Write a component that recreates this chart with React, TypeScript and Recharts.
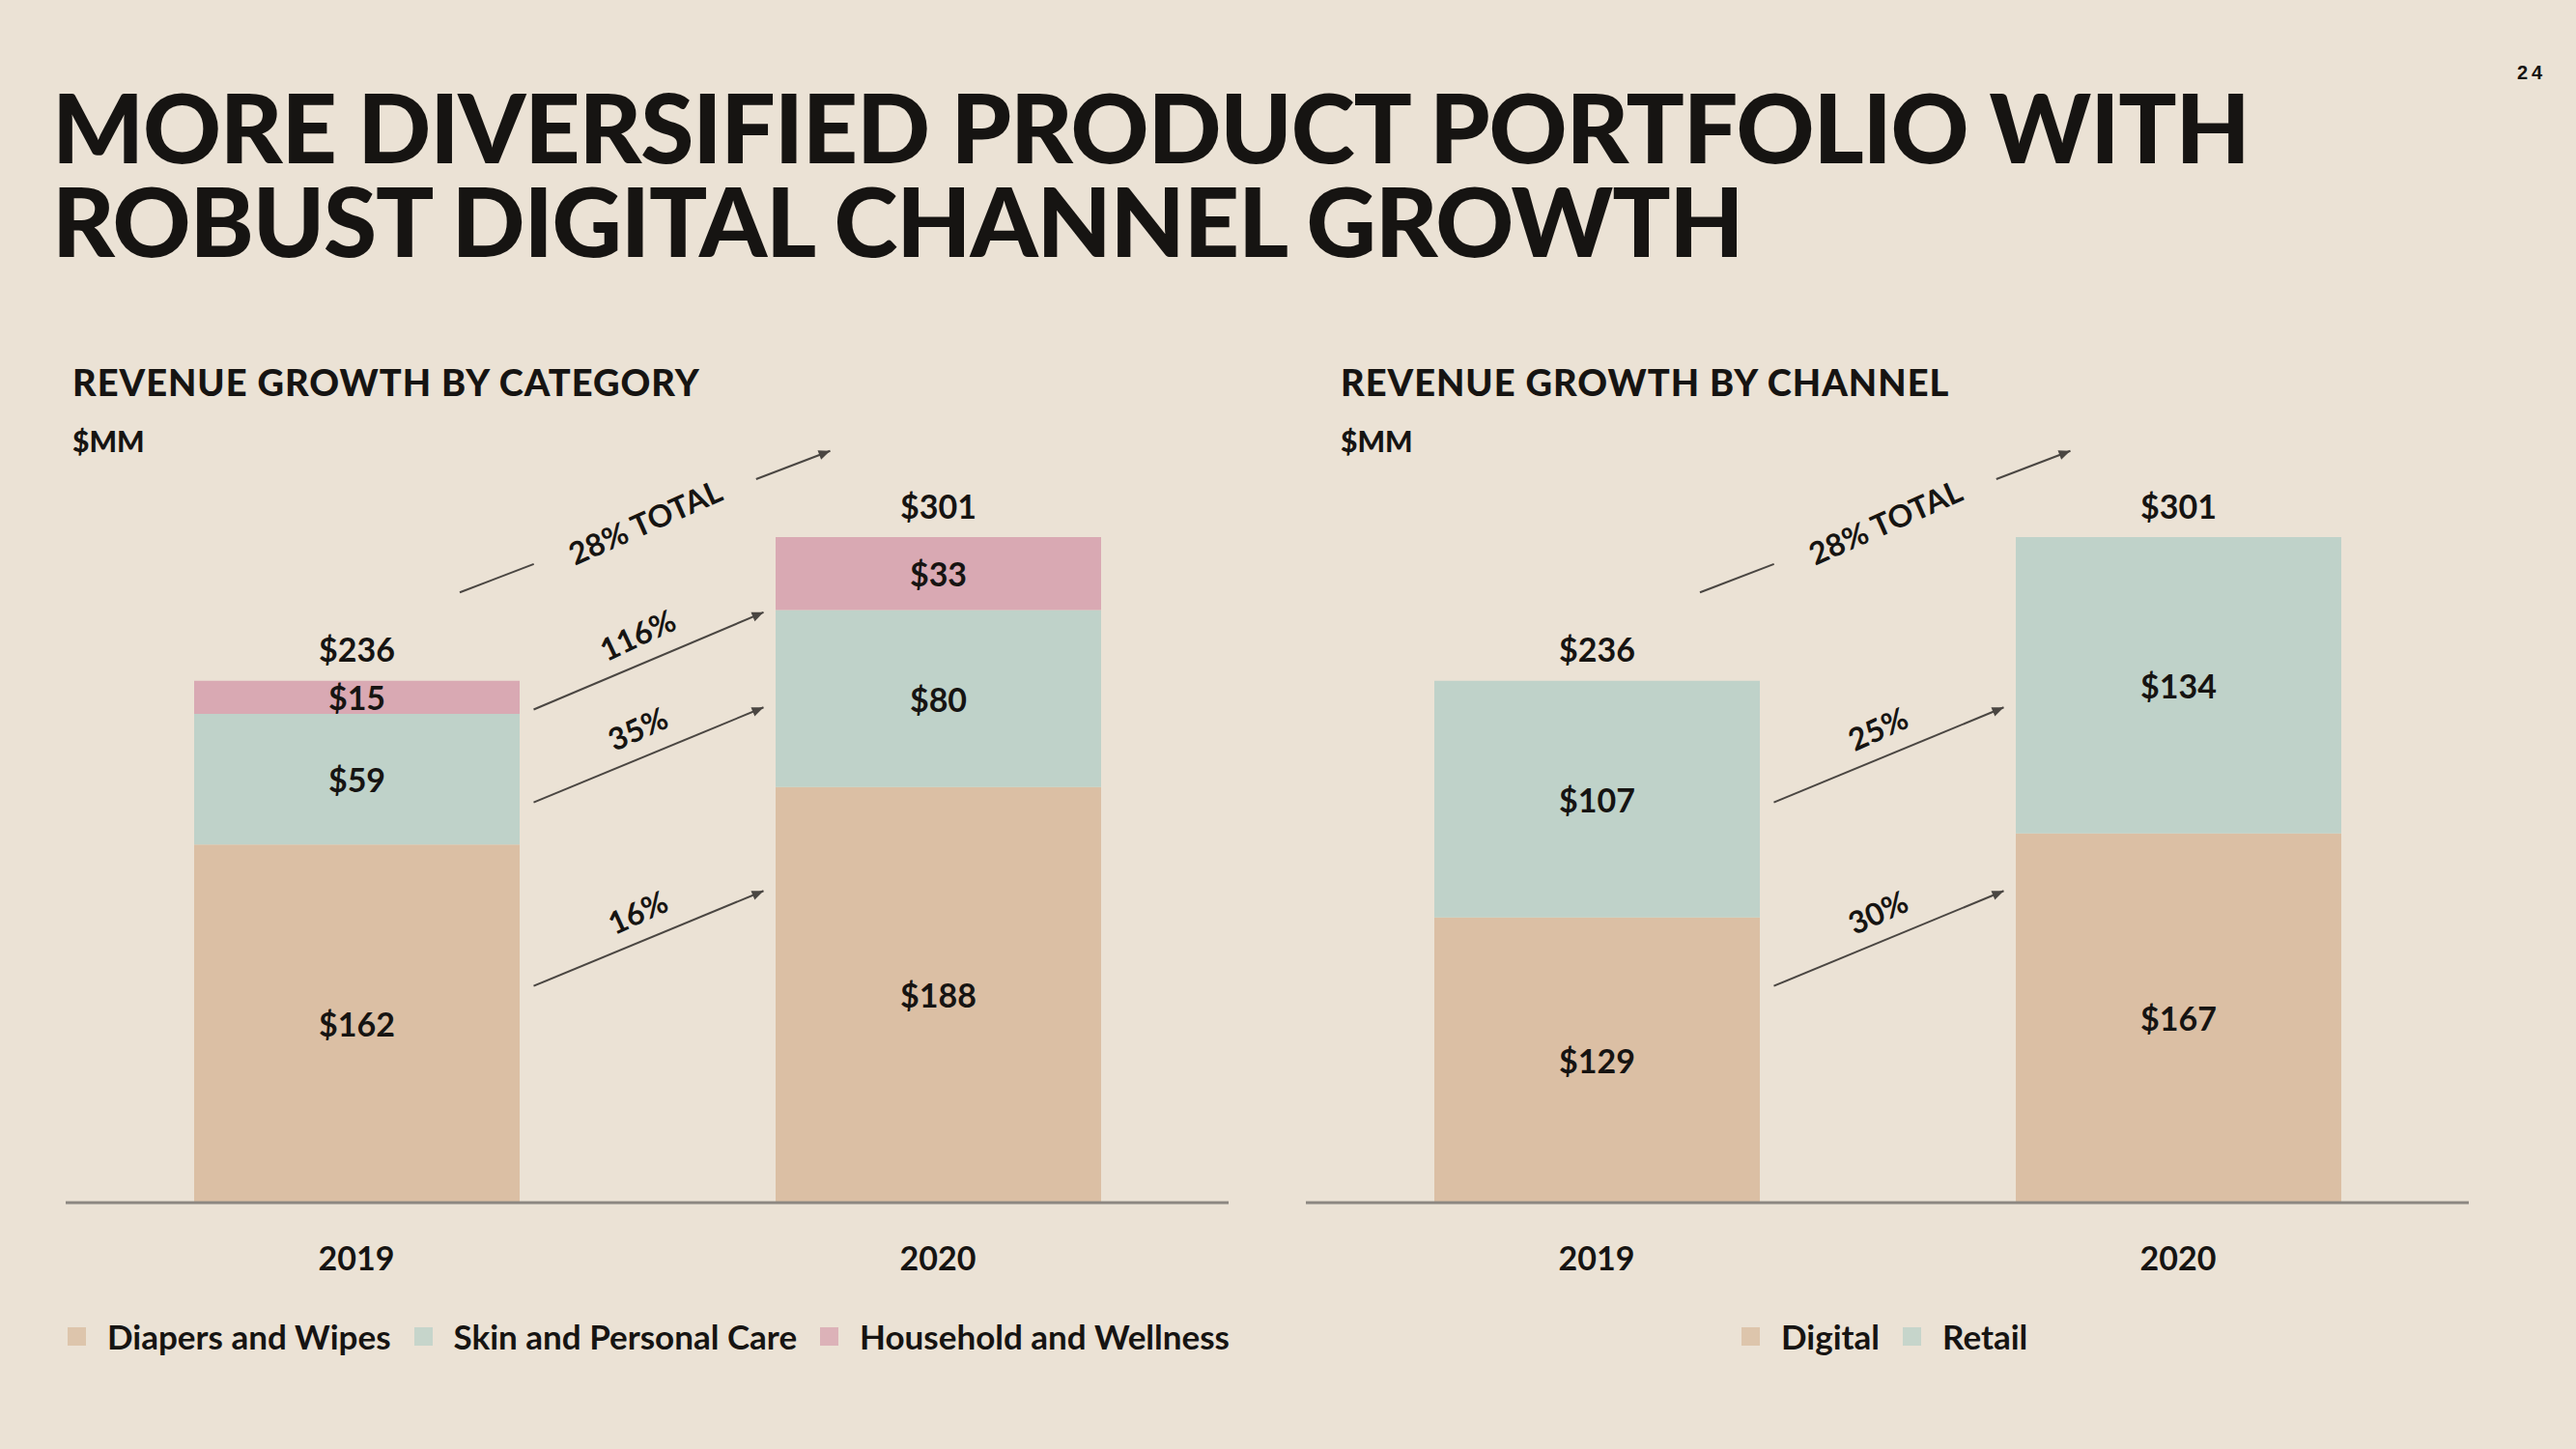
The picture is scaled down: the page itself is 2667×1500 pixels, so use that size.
import React from 'react';
import { BarChart, Bar, XAxis, YAxis, Legend, LabelList } from 'recharts';

// values in $MM
const years = ['2019', '2020'];
const diapersAndWipes = [162, 188];
const skinAndPersonalCare = [59, 80];
const householdAndWellness = [15, 33];
const digital = [129, 167];
const retail = [107, 134];

const categoryGrowth = ['16%', '35%', '116%'];
const channelGrowth = ['30%', '25%'];
const totalGrowth = '28% TOTAL';

const BG = '#ebe2d5';
const TAN = '#dbbfa4';
const TEAL = '#bfd2c9';
const PINK = '#d9a9b3';
const INK = '#161412';
const FONT = 'Lato, "Open Sans", sans-serif';

// chart geometry
const W = 1204;
const H = 1000;
const M_TOP = 116;
const M_BOTTOM = 32;
const LEGEND_H = 50;
const XAXIS_H = 113;
const BAR = 337;
const Y_MAX = 301;

type Series = { key: string; name: string; color: string; values: number[] };

const categorySeries: Series[] = [
  { key: 'diapers', name: 'Diapers and Wipes', color: TAN, values: diapersAndWipes },
  { key: 'skin', name: 'Skin and Personal Care', color: TEAL, values: skinAndPersonalCare },
  { key: 'household', name: 'Household and Wellness', color: PINK, values: householdAndWellness },
];

const channelSeries: Series[] = [
  { key: 'digital', name: 'Digital', color: TAN, values: digital },
  { key: 'retail', name: 'Retail', color: TEAL, values: retail },
];

function buildRows(series: Series[]) {
  return years.map((year, i) => {
    const row: any = { year, total: 0 };
    series.forEach((s) => {
      row[s.key] = s.values[i];
      row.total += s.values[i];
    });
    return row;
  });
}

// arrow anchors (value units) for the growth annotations, bottom to top
const arrowAnchors = [
  { from: 98, to: 141 },
  { from: 181, to: 224 },
  { from: 223, to: 267 },
];
const totalAnchor = { from: 276, to: 340 };

const labelStyle = { fontFamily: FONT, fontWeight: 700, fontSize: 34, fill: INK };

const SegmentLabel = (props: any) => {
  const { x, y, width, height, value } = props;
  return (
    <text x={x + width / 2} y={y + height / 2} textAnchor="middle" dominantBaseline="central" style={labelStyle}>
      {`$${value}`}
    </text>
  );
};

const TotalLabel = (props: any) => {
  const { x, y, width, value } = props;
  return (
    <text x={x + width / 2} y={y - 33} textAnchor="middle" dominantBaseline="central" style={labelStyle}>
      {`$${value}`}
    </text>
  );
};

const YearTick = (props: any) => {
  const { x, y, payload } = props;
  return (
    <text x={x} y={y + 56} textAnchor="middle" dominantBaseline="central" style={labelStyle}>
      {payload.value}
    </text>
  );
};

const LegendContent = ({ series }: { series: Series[] }) => (
  <div
    style={{
      display: 'flex',
      alignItems: 'center',
      height: LEGEND_H,
      whiteSpace: 'nowrap',
      fontFamily: FONT,
      fontWeight: 700,
      fontSize: 35,
      color: INK,
    }}
  >
    {series.map((s) => (
      <div key={s.key} style={{ display: 'flex', alignItems: 'center', marginRight: 24 }}>
        <span style={{ width: 19, height: 19, background: s.color, opacity: 0.85, marginRight: 22 }} />
        <span>{s.name}</span>
      </div>
    ))}
  </div>
);

const plotBottom = H - M_BOTTOM - LEGEND_H - XAXIS_H;
const yPx = (v: number) => plotBottom - (v / Y_MAX) * (plotBottom - M_TOP);
const band = W / years.length;
const barLeft = (i: number) => band * i + band / 2 - BAR / 2;
const barRight = (i: number) => barLeft(i) + BAR;

function Arrowhead({ x, y, angle }: { x: number; y: number; angle: number }) {
  const len = 13;
  const spread = 0.4;
  const p1 = [x - len * Math.cos(angle - spread), y - len * Math.sin(angle - spread)];
  const p2 = [x - len * Math.cos(angle + spread), y - len * Math.sin(angle + spread)];
  return <polygon points={`${x},${y} ${p1[0]},${p1[1]} ${p2[0]},${p2[1]}`} fill="#4a4642" />;
}

function Annotations({ labels }: { labels: string[] }) {
  const textStyle = { fontFamily: FONT, fontWeight: 700, fontSize: 32, fill: INK };
  const growth = labels.map((label, i) => {
    const a = arrowAnchors[i];
    const x1 = barRight(0) + 15;
    const y1 = yPx(a.from);
    const x2 = barLeft(1) - 12;
    const y2 = yPx(a.to);
    const ang = Math.atan2(y2 - y1, x2 - x1);
    const deg = (ang * 180) / Math.PI - 2;
    const mx = (x1 + x2) / 2 + Math.sin(ang) * 30;
    const my = (y1 + y2) / 2 - Math.cos(ang) * 30;
    return (
      <g key={label}>
        <line x1={x1} y1={y1} x2={x2} y2={y2} stroke="#4a4642" strokeWidth={2} />
        <Arrowhead x={x2} y={y2} angle={ang} />
        <text x={mx} y={my} textAnchor="middle" dominantBaseline="central" transform={`rotate(${deg} ${mx} ${my})`} style={textStyle}>
          {label}
        </text>
      </g>
    );
  });

  const tx1 = band / 2 + 107;
  const ty1 = yPx(totalAnchor.from);
  const tx2 = barLeft(1) + 57;
  const ty2 = yPx(totalAnchor.to);
  const tang = Math.atan2(ty2 - ty1, tx2 - tx1);
  const tdeg = (tang * 180) / Math.PI - 3;
  const at = (f: number) => [tx1 + (tx2 - tx1) * f, ty1 + (ty2 - ty1) * f];
  const a1 = at(0.2);
  const a2 = at(0.8);
  const mid = at(0.5);

  return (
    <svg width={W} height={H} style={{ position: 'absolute', left: 0, top: 0, pointerEvents: 'none', overflow: 'visible' }}>
      {growth}
      <line x1={tx1} y1={ty1} x2={a1[0]} y2={a1[1]} stroke="#4a4642" strokeWidth={2} />
      <line x1={a2[0]} y1={a2[1]} x2={tx2} y2={ty2} stroke="#4a4642" strokeWidth={2} />
      <Arrowhead x={tx2} y={ty2} angle={tang} />
      <text x={mid[0]} y={mid[1]} textAnchor="middle" dominantBaseline="central" transform={`rotate(${tdeg} ${mid[0]} ${mid[1]})`} style={textStyle}>
        {totalGrowth}
      </text>
    </svg>
  );
}

function StackedPanel({ left, series, growth, legendLeft }: { left: number; series: Series[]; growth: string[]; legendLeft: number }) {
  const rows = buildRows(series);
  return (
    <div style={{ position: 'absolute', left, top: 440, width: W, height: H }}>
      <BarChart width={W} height={H} data={rows} margin={{ top: M_TOP, right: 0, bottom: M_BOTTOM, left: 0 }} barSize={BAR}>
        <XAxis
          dataKey="year"
          axisLine={{ stroke: '#8c8781', strokeWidth: 3 }}
          tickLine={false}
          tickSize={0}
          tickMargin={0}
          interval={0}
          height={XAXIS_H}
          tick={(p: any) => <YearTick {...p} />}
        />
        <YAxis hide domain={[0, Y_MAX]} allowDataOverflow />
        <Legend
          verticalAlign="bottom"
          align="left"
          height={LEGEND_H}
          wrapperStyle={{ left: legendLeft, width: 1300 }}
          content={() => <LegendContent series={series} />}
        />
        {series.map((s, i) => (
          <Bar key={s.key} dataKey={s.key} name={s.name} stackId="a" fill={s.color} isAnimationActive={false}>
            <LabelList dataKey={s.key} content={(p: any) => <SegmentLabel {...p} />} />
            {i === series.length - 1 && <LabelList dataKey="total" content={(p: any) => <TotalLabel {...p} />} />}
          </Bar>
        ))}
      </BarChart>
      <Annotations labels={growth} />
    </div>
  );
}

export default function App() {
  const heading = { position: 'absolute' as const, fontFamily: FONT, color: INK, lineHeight: 0.9, whiteSpace: 'nowrap' as const };
  return (
    <div style={{ position: 'absolute', left: 0, top: 0, width: 2667, height: 1500, background: BG, overflow: 'hidden' }}>
      <div style={{ ...heading, left: 54, top: 82, fontSize: 100, lineHeight: '97px', fontWeight: 900, letterSpacing: -1.2 }}>
        MORE DIVERSIFIED PRODUCT PORTFOLIO WITH
        <br />
        ROBUST DIGITAL CHANNEL GROWTH
      </div>
      <div style={{ ...heading, left: 2606, top: 66, fontSize: 20, fontWeight: 700, letterSpacing: 4, fontFamily: '"Liberation Sans", sans-serif' }}>
        24
      </div>

      <div style={{ ...heading, left: 75, top: 378, fontSize: 38, fontWeight: 900, letterSpacing: 1 }}>REVENUE GROWTH BY CATEGORY</div>
      <div style={{ ...heading, left: 75, top: 443, fontSize: 30, fontWeight: 900 }}>$MM</div>
      <div style={{ ...heading, left: 1388, top: 378, fontSize: 38, fontWeight: 900, letterSpacing: 1 }}>REVENUE GROWTH BY CHANNEL</div>
      <div style={{ ...heading, left: 1388, top: 443, fontSize: 30, fontWeight: 900 }}>$MM</div>

      <StackedPanel left={68} series={categorySeries} growth={categoryGrowth} legendLeft={2} />
      <StackedPanel left={1352} series={channelSeries} growth={channelGrowth} legendLeft={451} />
    </div>
  );
}
